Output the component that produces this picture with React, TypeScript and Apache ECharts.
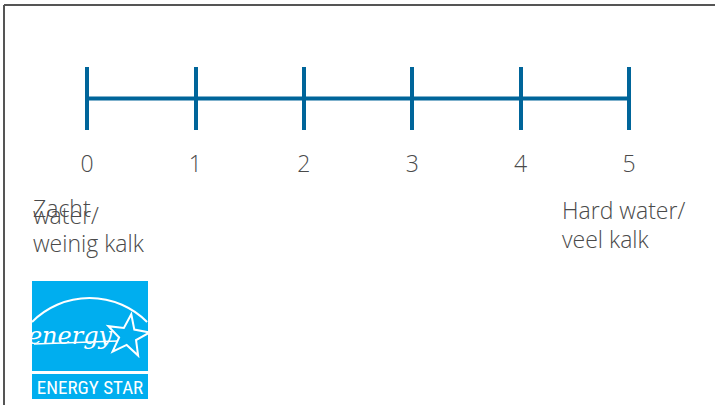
import React, { useEffect, useRef } from "react";
import * as echarts from "echarts";

const hardnessLevels = [0, 1, 2, 3, 4, 5];
const tickLabels = ["0", "1", "2", "3", "4", "5"];
const softLabel = ["Zacht", "water/", "weinig kalk"];
const hardLabel = ["Hard water/", "veel kalk"];
const logoCaption = "ENERGY STAR";
const logoScript = "energy";

const BLUE = "#00659A";
const TEXT = "#4a4a4a";
const LOGO = "#00AEEF";
const FONT = "'Open Sans', 'Noto Sans', sans-serif";

function starPoints(cx: number, cy: number, ro: number, ri: number, rot: number) {
  const pts: number[][] = [];
  for (let i = 0; i < 10; i++) {
    const r = i % 2 === 0 ? ro : ri;
    const a = -Math.PI / 2 + rot + (i * Math.PI) / 5;
    pts.push([cx + r * Math.cos(a), cy + r * Math.sin(a)]);
  }
  return pts;
}

export default function App() {
  const ref = useRef<HTMLDivElement>(null);
  useEffect(() => {
    if (!ref.current) return;
    const chart = echarts.init(ref.current, null, { renderer: "svg" });
    const tf = `300 23px ${FONT}`;
    chart.setOption({
      animation: false,
      backgroundColor: "#ffffff",
      grid: { left: 87, right: 86, top: 67, height: 63 },
      xAxis: {
        type: "value",
        min: 0,
        max: 5,
        interval: 1,
        axisLine: { show: false },
        axisTick: { show: false },
        splitLine: { show: true, lineStyle: { color: BLUE, width: 4 } },
        axisLabel: {
          margin: 21,
          fontSize: 23,
          color: TEXT,
          fontFamily: FONT,
          fontWeight: 300,
          formatter: (v: number) => tickLabels[hardnessLevels.indexOf(v)] ?? "",
        },
      },
      yAxis: { type: "value", min: -1, max: 1, show: false },
      series: [
        {
          type: "line",
          data: hardnessLevels.map((v) => [v, 0]),
          symbol: "none",
          lineStyle: { color: BLUE, width: 4 },
          silent: true,
        },
      ],
      graphic: [
        { type: "line", shape: { x1: 4, y1: 5, x2: 715, y2: 5 }, style: { stroke: "#555", lineWidth: 2 } },
        { type: "line", shape: { x1: 4, y1: 5, x2: 4, y2: 405 }, style: { stroke: "#555", lineWidth: 2 } },
        { type: "text", x: 33, y: 219, style: { text: softLabel[0], fill: TEXT, font: tf, textVerticalAlign: "bottom" } },
        {
          type: "text",
          x: 33,
          y: 200.5,
          style: { text: softLabel[1] + "\n" + softLabel[2], fill: TEXT, font: tf, lineHeight: 28, textVerticalAlign: "top" },
        },
        {
          type: "text",
          x: 562,
          y: 195,
          style: { text: hardLabel[0] + "\n" + hardLabel[1], fill: TEXT, font: tf, lineHeight: 29, textVerticalAlign: "top" },
        },
        { type: "rect", shape: { x: 32, y: 281, width: 116, height: 90 }, style: { fill: LOGO } },
        { type: "rect", shape: { x: 32, y: 374, width: 116, height: 25 }, style: { fill: LOGO } },
        {
          type: "arc",
          shape: { cx: 89.5, cy: 379, r: 81, startAngle: -2.36, endAngle: -0.78, clockwise: true },
          style: { stroke: "#fff", lineWidth: 2, fill: "none" },
        },
        { type: "line", shape: { x1: 34, y1: 344, x2: 118, y2: 341 }, style: { stroke: "#fff", lineWidth: 1.5 } },
        {
          type: "text",
          x: 70,
          y: 336,
          style: {
            text: logoScript,
            fill: "#fff",
            font: "italic 24px 'DejaVu Serif', serif",
            textAlign: "center",
            textVerticalAlign: "middle",
          },
        },
        {
          type: "polygon",
          shape: { points: starPoints(128, 336, 22, 9, 0.15) },
          style: { stroke: "#fff", fill: LOGO, lineWidth: 2 },
        },
        {
          type: "text",
          x: 90,
          y: 387,
          style: {
            text: logoCaption,
            fill: "#fff",
            font: "19px 'Liberation Sans Narrow', 'Roboto Condensed', 'Liberation Sans', sans-serif",
            textAlign: "center",
            textVerticalAlign: "middle",
          },
        },
      ],
    });
    return () => chart.dispose();
  }, []);
  return <div ref={ref} style={{ position: "fixed", left: 0, top: 0, width: 715, height: 405 }} />;
}
